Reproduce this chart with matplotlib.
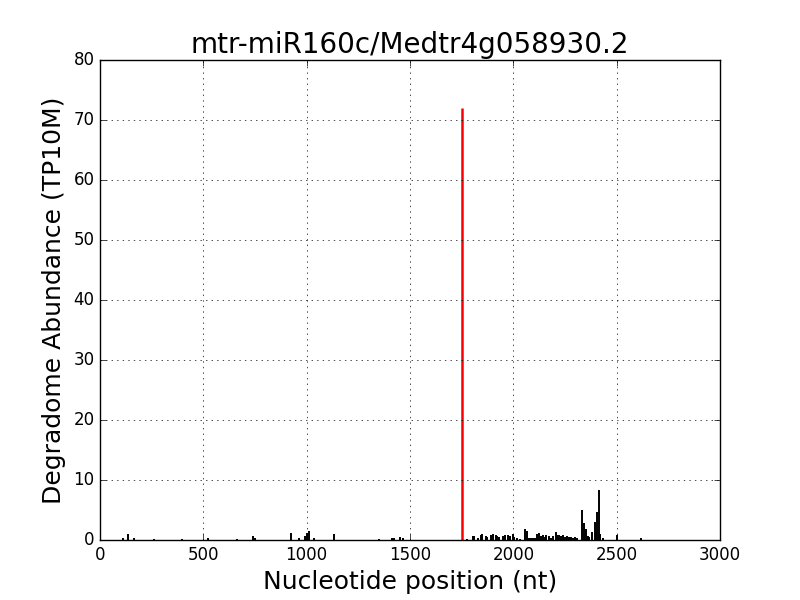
import matplotlib
matplotlib.use("Agg")
import matplotlib.pyplot as plt

TITLE = "mtr-miR160c/Medtr4g058930.2"

# degradome tags along the transcript (position in nt, abundance in TP10M)
positions = [113, 137, 166, 263, 395, 524, 665, 742, 750, 926, 965, 992,
             1003, 1013, 1037, 1134, 1352, 1415, 1424, 1453, 1465,
             1777, 1805, 1812, 1830, 1843, 1850, 1868, 1872, 1890, 1903,
             1915, 1922, 1931, 1948, 1955, 1960, 1975, 1982, 1997, 2003,
             2020, 2030, 2058, 2066, 2075, 2085, 2095, 2105, 2115, 2125,
             2133, 2145, 2155, 2160, 2172, 2182, 2190, 2205, 2212, 2222,
             2232, 2240, 2248, 2258, 2270, 2280, 2290, 2300, 2310, 2334,
             2342, 2350, 2360, 2368, 2380, 2395, 2402, 2406, 2415, 2420,
             2435, 2500, 2618]
abundance = [0.3, 0.95, 0.3, 0.25, 0.25, 0.3, 0.25, 0.65, 0.35, 1.1, 0.3, 0.6,
             1.2, 1.5, 0.3, 0.95, 0.25, 0.3, 0.3, 0.55, 0.3,
             0.2, 0.6, 0.7, 0.3, 0.9, 0.95, 0.6, 0.5, 0.8, 1.0,
             0.9, 0.7, 0.5, 0.6, 0.4, 0.8, 0.9, 0.7, 1.0, 0.5,
             0.3, 0.2, 1.8, 1.5, 0.4, 0.3, 0.4, 0.3, 1.0, 1.1,
             0.7, 0.8, 0.5, 0.9, 0.6, 0.4, 0.7, 1.3, 0.8, 0.9,
             0.6, 0.9, 0.5, 0.6, 0.5, 0.5, 0.4, 0.5, 0.4, 5.0,
             2.8, 1.9, 0.6, 0.5, 1.3, 3.05, 1.5, 4.7, 8.3, 1.0,
             0.3, 0.9, 0.3]

# predicted cleavage site
site_pos = [1751]
site_abundance = [72]

plt.style.use("classic")
fig, ax = plt.subplots(figsize=(8, 6))
fig.subplots_adjust(left=0.125, right=0.9, bottom=0.1, top=0.9)

ax.vlines(positions, 0, abundance, colors="black", linewidth=1.4)
ax.vlines(site_pos, 0, site_abundance, colors="red", linewidth=1.8)

ax.set_xlim(0, 3000)
ax.set_ylim(0, 80)
ax.grid(True)
ax.set_title(TITLE, fontsize=20)
ax.set_xlabel("Nucleotide position (nt)", fontsize=18)
ax.set_ylabel("Degradome Abundance (TP10M)", fontsize=18)

fig.savefig("out.png", dpi=100, facecolor="white")
